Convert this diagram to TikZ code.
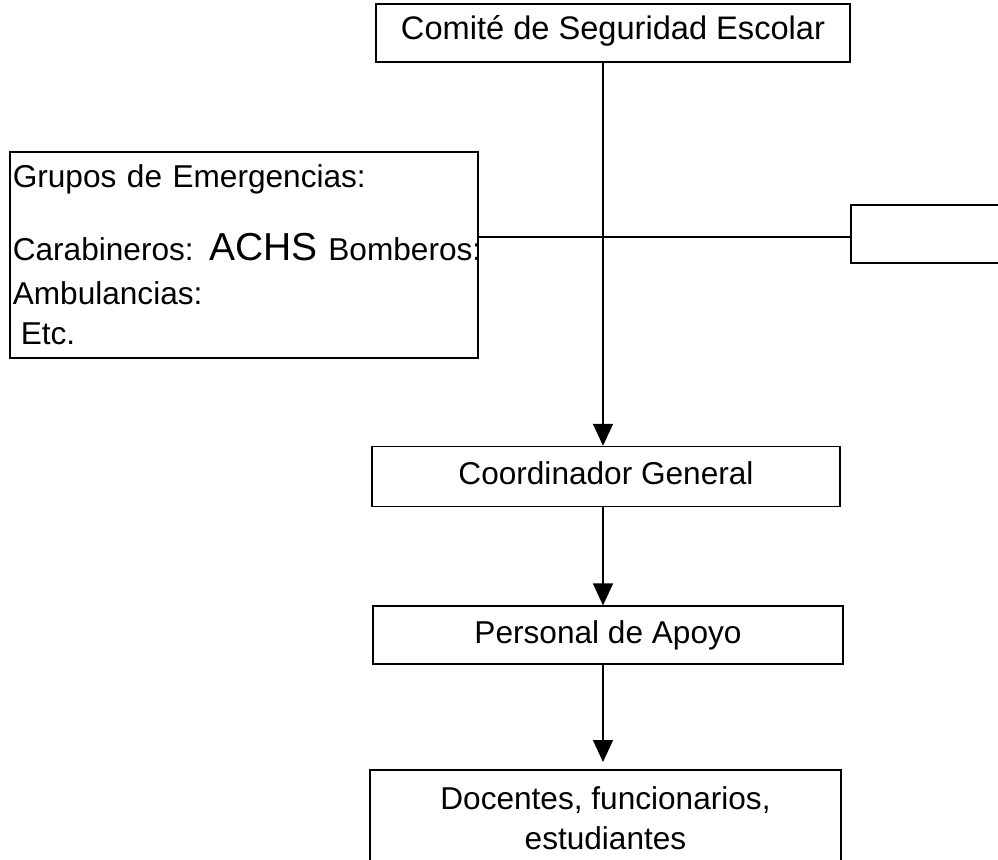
\documentclass[tikz,border=0pt]{standalone}
\usepackage{fontspec}
\setmainfont{Liberation Sans}
\usetikzlibrary{arrows.meta,positioning}

\begin{document}
\begin{tikzpicture}[x=0.5pt,y=-0.5pt,
  every node/.style={font=\fontsize{15.8}{20}\selectfont},%
  bx/.style={draw,line width=0.8pt,inner sep=1.5pt},%
  one/.style={text height=11.5pt,text depth=3.3pt},%
  e/.style={-{Triangle[width=10pt,length=11pt]},line width=0.8pt},%
  ln/.style={line width=0.8pt},%
  ]
  \useasboundingbox (0,0) rectangle (998,859);
  \clip (0,0) rectangle (998,859);
  \coordinate (axis) at (603,0);

  \node (comite) [bx,one,text height=9.3pt,font=\fontsize{16.3}{20}\selectfont,%
    minimum width=237pt,minimum height=29pt%
  ] at (613,33) {Comité de Seguridad Escolar};

  \node (coord) [bx,one,below=191.5pt of comite,xshift=-3.5pt,%
    minimum width=234pt,minimum height=30pt%
  ] {Coordinador General};

  \node (apoyo) [bx,one,below=49pt of coord,xshift=1pt,%
    minimum width=235pt,minimum height=29pt%
  ] {Personal de Apoyo};

  \node (docentes) [bx,below=52pt of apoyo,xshift=-1.25pt,align=center,%
    minimum width=235.5pt,minimum height=48pt%
  ] {Docentes, funcionarios,\\estudiantes};

  \node (grupos) [bx,anchor=north west,minimum height=103pt,%
    text width=231pt,align=left%
  ] at (9,151) {Grupos de Emergencias:\\[16.5pt]%
    \mbox{Carabineros: {\fontsize{19.5}{20}\selectfont ACHS} Bomberos:}\\[2pt]%
    Ambulancias:\\\hspace*{4pt}Etc.};

  \node (blank) [bx,anchor=north west,minimum width=100pt,minimum height=29pt%
  ] at (850,204) {};

  \draw [ln] ([yshift=-1.5pt]grupos.east |- blank.west) -- ([yshift=-1.5pt]blank.west);
  \draw [e] (comite.south -| axis) -- (coord.north -| axis);
  \draw [e] (coord.south -| axis) -- (apoyo.north -| axis);
  \draw [e,shorten >=3.5pt] (apoyo.south -| axis) -- (docentes.north -| axis);
\end{tikzpicture}
\end{document}
